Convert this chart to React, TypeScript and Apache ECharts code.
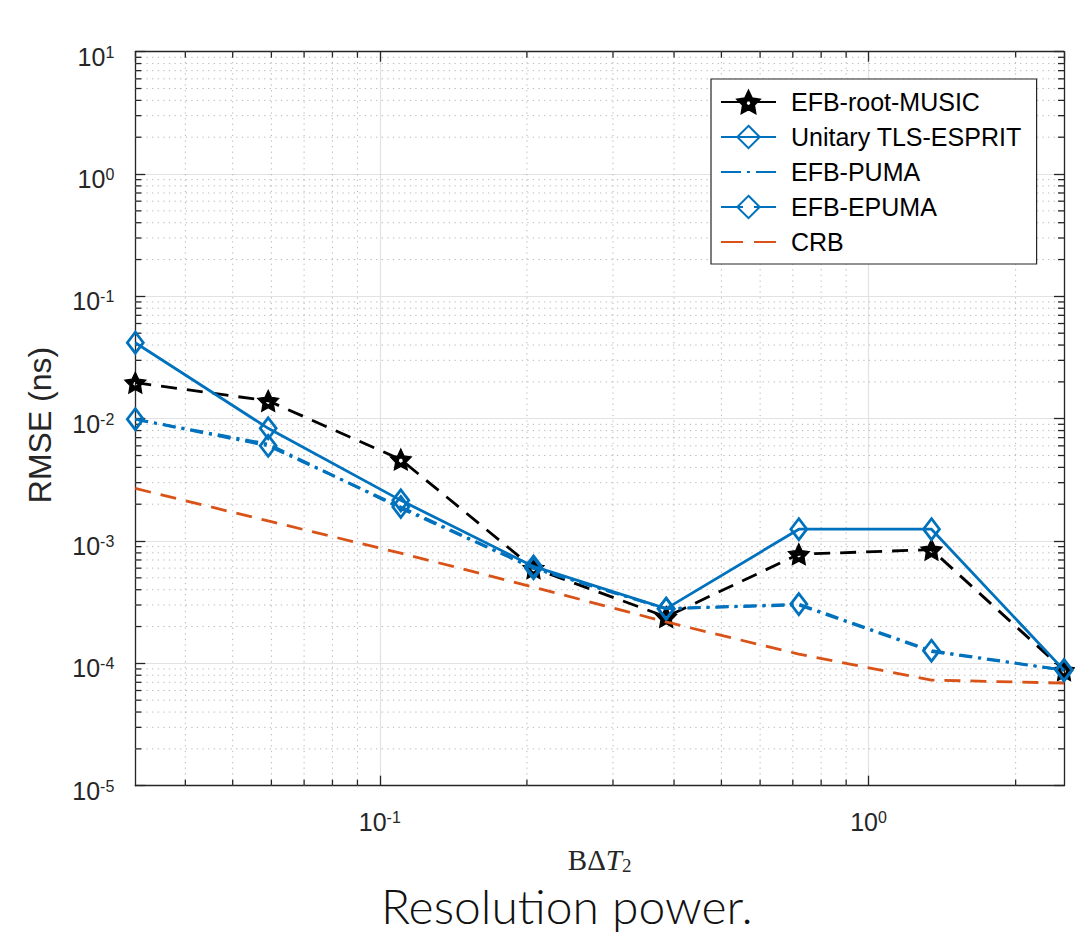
import React, { useEffect, useRef } from "react";
import * as echarts from "echarts";

// ---- data ----
const bdt2 = [0.0316, 0.0591, 0.1104, 0.2063, 0.3854, 0.7201, 1.3454, 2.5119];
const musicRMSE = [0.0197, 0.014, 0.00464, 0.0006, 0.00024, 0.00078, 0.00085, 0.000088];
const tlsRMSE = [0.0418, 0.00834, 0.00215, 0.00062, 0.00028, 0.00125, 0.00125, 0.000088];
const pumaRMSE = [0.0099, 0.0062, 0.00185, 0.0006, 0.00028, 0.0003, 0.000125, 0.000088];
const epumaRMSE = [0.0099, 0.006, 0.0019, 0.0006, 0.00028, 0.000305, 0.000127, 0.000088];
const crbRMSE = [0.00269, 0.00146, 0.000796, 0.00042, 0.000218, 0.000119, 0.000073, 0.000069];
const seriesNames = ["EFB-root-MUSIC", "Unitary TLS-ESPRIT", "EFB-PUMA", "EFB-EPUMA", "CRB"];
const yAxisTitle = "RMSE (ns)";
const chartTitle = "Resolution power.";

const X_MIN = 0.0316;
const X_MAX = 2.5119;
const Y_MIN = 1e-5;
const Y_MAX = 10;
const minorX = [0.04, 0.05, 0.06, 0.07, 0.08, 0.09, 0.2, 0.3, 0.4, 0.5, 0.6, 0.7, 0.8, 0.9, 2];
const minorY: number[] = [];
for (let e = -5; e <= 0; e++) for (let m = 2; m <= 9; m++) minorY.push(m * Math.pow(10, e));

const AX = "#262626";
const BLUE = "#0072BD";
const ORANGE = "#D95319";
const SANS = "'Liberation Sans', Arial, Helvetica, sans-serif";
const SERIF = "'Liberation Serif', 'DejaVu Serif', serif";
// pentagram with a small hole in the middle (MATLAB-like bold outline star)
const STAR =
  "path://M0,-10L2.939,-4.045L9.511,-3.090L4.755,1.545L5.878,8.090L0,5L-5.878,8.090L-4.755,1.545L-9.511,-3.090L-2.939,-4.045Z" +
  "M1.528,-2.103L-1.528,-2.103L-2.473,0.803L0,2.6L2.473,0.803Z";

const pair = (ys: number[]) => bdt2.map((x, i) => [x, ys[i]]);

const powFmt = (v: number) => {
  const e = Math.log10(v);
  const r = Math.round(e);
  if (Math.abs(e - r) > 1e-6) return "";
  return `{b|10}{s|${r}}`;
};
const powRich = {
  b: { fontSize: 25, lineHeight: 25, verticalAlign: "bottom", fontFamily: SANS, color: AX },
  s: { fontSize: 16, lineHeight: 16, verticalAlign: "top", fontFamily: SANS, color: AX, padding: [0, 0, 13, 0] },
};

export default function App() {
  const ref = useRef<HTMLDivElement>(null);
  useEffect(() => {
    if (!ref.current) return;
    const chart = echarts.init(ref.current, null, { renderer: "svg" });
    const axisCommon = {
      type: "log",
      logBase: 10,
      axisLine: { show: true, onZero: false, lineStyle: { color: AX, width: 1.3 } },
      axisTick: { show: true, inside: true, length: 10, lineStyle: { color: AX, width: 1.3 } },
    };
    const noSymbol = { color: "rgba(0,0,0,0)", borderWidth: 0, opacity: 0 };
    const option: any = {
      animation: false,
      backgroundColor: "#fff",
      title: {
        text: chartTitle,
        left: 381,
        top: 881,
        padding: 0,
        textStyle: { fontSize: 48, fontWeight: 300, fontFamily: "Lato, 'Open Sans', sans-serif", color: "#111" },
      },
      graphic: [
        {
          type: "text",
          x: 40,
          y: 425,
          rotation: Math.PI / 2,
          style: { text: yAxisTitle, fontSize: 32, fontFamily: SANS, fill: AX, align: "center", verticalAlign: "middle" },
        },
      ],
      grid: { left: 135.3, top: 51.7, width: 928.7, height: 734, containLabel: false },
      legend: {
        orient: "vertical",
        left: 711,
        top: 79,
        padding: [10, 15, 9, 9],
        itemWidth: 55,
        itemHeight: 28,
        itemGap: 9,
        borderColor: AX,
        borderWidth: 1.2,
        backgroundColor: "#fff",
        textStyle: { fontSize: 25, lineHeight: 26, fontFamily: SANS, color: "#000", padding: [0, 0, 0, 10] },
        data: [
          { name: seriesNames[0], lineStyle: { type: [22, 11] } },
          { name: seriesNames[1] },
          { name: seriesNames[2], itemStyle: noSymbol, lineStyle: { type: [20, 6, 3, 6] } },
          { name: seriesNames[3], lineStyle: { type: [22, 11] } },
          { name: seriesNames[4], itemStyle: noSymbol, lineStyle: { type: [22, 11] } },
        ],
      },
      xAxis: [
        {
          ...axisCommon,
          min: X_MIN,
          max: X_MAX,
          position: "bottom",
          axisLabel: { formatter: powFmt, rich: powRich, margin: 14, padding: [10, 0, 0, 0], showMinLabel: false, showMaxLabel: false },
          splitLine: { show: true, lineStyle: { color: "#e2e2e2", width: 1.2 } },
          name: "{r|BΔ}{i|T}{sub|2}",
          nameLocation: "middle",
          nameGap: 60,
          nameTextStyle: {
            rich: {
              r: { fontSize: 29, lineHeight: 29, fontFamily: SERIF, color: AX },
              i: { fontSize: 29, lineHeight: 29, fontStyle: "italic", fontFamily: SERIF, color: AX },
              sub: { fontSize: 19, lineHeight: 19, fontFamily: SERIF, color: AX, verticalAlign: "bottom" },
            },
          },
        },
        {
          ...axisCommon,
          min: X_MIN,
          max: X_MAX,
          position: "top",
          axisLabel: { show: false },
          splitLine: { show: false },
        },
      ],
      yAxis: [
        {
          ...axisCommon,
          min: Y_MIN,
          max: Y_MAX,
          position: "left",
          axisLabel: { formatter: powFmt, rich: powRich, margin: 21, padding: [10, 0, 0, 0] },
          splitLine: { show: true, lineStyle: { color: "#e2e2e2", width: 1.2 } },
        },
        {
          ...axisCommon,
          min: Y_MIN,
          max: Y_MAX,
          position: "right",
          axisLabel: { show: false },
          splitLine: { show: false },
        },
      ],
      series: [
        {
          type: "custom",
          name: "minor-x",
          silent: true,
          z: 1,
          xAxisIndex: 0,
          yAxisIndex: 0,
          data: minorX.map((v) => [v, 1]),
          renderItem: (params: any, api: any) => {
            const x = api.value(0);
            const p0 = api.coord([x, Y_MIN]);
            const p1 = api.coord([x, Y_MAX]);
            return {
              type: "group",
              children: [
                { type: "line", shape: { x1: p0[0], y1: p0[1], x2: p1[0], y2: p1[1] }, style: { stroke: "#b8b8b8", lineWidth: 1, lineDash: [1.3, 4.3] } },
                { type: "line", shape: { x1: p0[0], y1: p0[1], x2: p0[0], y2: p0[1] - 6 }, style: { stroke: AX, lineWidth: 1.3 } },
                { type: "line", shape: { x1: p1[0], y1: p1[1], x2: p1[0], y2: p1[1] + 6 }, style: { stroke: AX, lineWidth: 1.3 } },
              ],
            };
          },
        },
        {
          type: "custom",
          name: "minor-y",
          silent: true,
          z: 1,
          xAxisIndex: 0,
          yAxisIndex: 0,
          data: minorY.map((v) => [1, v]),
          renderItem: (params: any, api: any) => {
            const y = api.value(1);
            const p0 = api.coord([X_MIN, y]);
            const p1 = api.coord([X_MAX, y]);
            return {
              type: "group",
              children: [
                { type: "line", shape: { x1: p0[0], y1: p0[1], x2: p1[0], y2: p1[1] }, style: { stroke: "#b8b8b8", lineWidth: 1, lineDash: [1.3, 4.3] } },
                { type: "line", shape: { x1: p0[0], y1: p0[1], x2: p0[0] + 6, y2: p0[1] }, style: { stroke: AX, lineWidth: 1.3 } },
                { type: "line", shape: { x1: p1[0], y1: p1[1], x2: p1[0] - 6, y2: p1[1] }, style: { stroke: AX, lineWidth: 1.3 } },
              ],
            };
          },
        },
        {
          type: "line",
          name: seriesNames[0],
          data: pair(musicRMSE),
          clip: false,
          z: 3,
          symbol: STAR,
          symbolSize: 21,
          lineStyle: { color: "#000", width: 2.8, type: [16, 10] },
          itemStyle: { color: "#000", borderColor: "#000", borderWidth: 1.2 },
        },
        {
          type: "line",
          name: seriesNames[1],
          data: pair(tlsRMSE),
          clip: false,
          z: 4,
          symbol: "diamond",
          symbolSize: [16, 21],
          lineStyle: { color: BLUE, width: 2.8, type: "solid" },
          itemStyle: { color: "rgba(255,255,255,0)", borderColor: BLUE, borderWidth: 2.8 },
        },
        {
          type: "line",
          name: seriesNames[2],
          data: pair(pumaRMSE),
          clip: false,
          z: 4,
          symbol: "none",
          lineStyle: { color: BLUE, width: 2.8, type: [13, 6, 3, 6] },
          itemStyle: { color: BLUE },
        },
        {
          type: "line",
          name: seriesNames[3],
          data: pair(epumaRMSE),
          clip: false,
          z: 4,
          symbol: "diamond",
          symbolSize: [16, 21],
          lineStyle: { color: BLUE, width: 2.8, type: [13, 6, 3, 6] },
          itemStyle: { color: "rgba(255,255,255,0)", borderColor: BLUE, borderWidth: 2.8 },
        },
        {
          type: "line",
          name: seriesNames[4],
          data: pair(crbRMSE),
          clip: false,
          z: 4,
          symbol: "none",
          lineStyle: { color: ORANGE, width: 2.8, type: [16, 10] },
          itemStyle: { color: ORANGE },
        },
      ],
    };
    chart.setOption(option);
    return () => chart.dispose();
  }, []);
  return <div ref={ref} style={{ position: "absolute", left: 0, top: 0, width: 1075, height: 937 }} />;
}
